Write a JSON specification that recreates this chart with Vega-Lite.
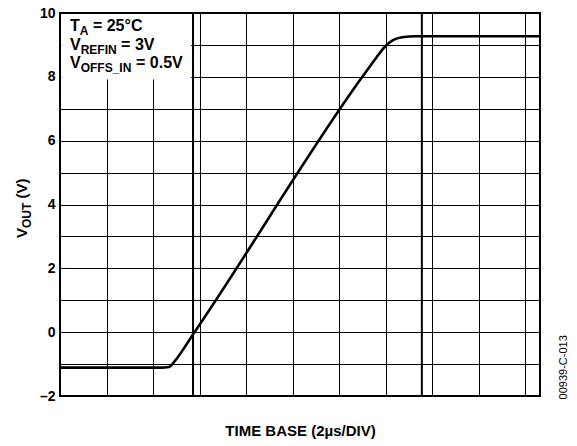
{
  "$schema": "https://vega.github.io/schema/vega-lite/v6.json",
  "width": 480,
  "height": 383,
  "autosize": "none",
  "padding": {"left": 60, "top": 13, "right": 37, "bottom": 50},
  "background": "white",
  "config": {
    "font": "Liberation Sans",
    "view": {"stroke": "black", "strokeWidth": 2},
    "axis": {
      "gridColor": "black", "gridOpacity": 1, "gridWidth": 1,
      "domain": false, "ticks": false,
      "labelFont": "Liberation Sans", "labelFontWeight": "bold", "labelFontSize": 14, "labelColor": "black",
      "titleFont": "Liberation Sans", "titleFontWeight": "bold", "titleFontSize": 15, "titleColor": "black"
    }
  },
  "resolve": {"axis": {"y": "independent"}},
  "datasets": {
    "curve": [
      {"x": 0.02, "y": -1.11}, {"x": 2.2, "y": -1.11}, {"x": 2.3, "y": -1.1}, {"x": 2.37, "y": -1.07},
      {"x": 2.45, "y": -0.94}, {"x": 2.892, "y": 0}, {"x": 6.5, "y": 8.0}, {"x": 6.8, "y": 8.6},
      {"x": 6.99, "y": 8.95}, {"x": 7.16, "y": 9.15}, {"x": 7.355, "y": 9.24}, {"x": 7.66, "y": 9.27},
      {"x": 10.3, "y": 9.27}
    ],
    "cursors": [
      {"x": 2.86, "y": -2, "y2": 10},
      {"x": 7.78, "y": -2, "y2": 10}
    ],
    "box": [{"x": 0.03, "x2": 2.82, "y": 7.92, "y2": 9.97}],
    "mainText": [
      {"x": 0.215, "y": 9.435, "t": "T"},
      {"x": 0.708, "y": 9.435, "t": "= 25°C"},
      {"x": 0.215, "y": 8.855, "t": "V"},
      {"x": 1.314, "y": 8.855, "t": "= 3V"},
      {"x": 0.215, "y": 8.276, "t": "V"},
      {"x": 1.635, "y": 8.276, "t": "= 0.5V"}
    ],
    "subText": [
      {"x": 0.426, "y": 9.31, "t": "A"},
      {"x": 0.445, "y": 8.73, "t": "REFIN"},
      {"x": 0.445, "y": 8.15, "t": "OFFS_IN"}
    ],
    "yTitleMain": [
      {"x": -0.71, "y": 2.95, "t": "V"},
      {"x": -0.71, "y": 4.19, "t": "(V)"}
    ],
    "yTitleSub": [
      {"x": -0.624, "y": 3.263, "t": "OUT"}
    ],
    "code": [{"x": 10.83, "y": -1.1, "t": "00939-C-013"}]
  },
  "layer": [
    {
      "data": {"name": "box"},
      "mark": {"type": "rect", "fill": "white", "stroke": null},
      "encoding": {
        "x": {"field": "x", "type": "quantitative",
              "scale": {"domain": [0, 10.32], "nice": false, "zero": false},
              "axis": {"values": [0,1,2,3,4,5,6,7,8,9,10], "grid": true, "labels": false, "title": "TIME BASE (2µs/DIV)", "titlePadding": 27}},
        "x2": {"field": "x2"},
        "y": {"field": "y", "type": "quantitative",
              "scale": {"domain": [-2, 10], "nice": false, "zero": false},
              "axis": {"orient": "left", "values": [-2,-1,0,1,2,3,4,5,6,7,8,9,10], "grid": true, "labels": false, "title": null}},
        "y2": {"field": "y2"}
      }
    },
    {
      "data": {"name": "cursors"},
      "mark": {"type": "rule", "color": "black", "strokeWidth": 2},
      "encoding": {
        "x": {"field": "x", "type": "quantitative"},
        "y": {"field": "y", "type": "quantitative",
              "axis": {"orient": "left", "values": [-2,0,2,4,6,8,10], "grid": false, "title": null, "labelPadding": 5,
                       "labelExpr": "datum.value < 0 ? '–' + abs(datum.value) : datum.label"}},
        "y2": {"field": "y2"}
      }
    },
    {
      "data": {"name": "curve"},
      "mark": {"type": "line", "color": "black", "strokeWidth": 2.6, "interpolate": "monotone"},
      "encoding": {
        "x": {"field": "x", "type": "quantitative"},
        "y": {"field": "y", "type": "quantitative", "axis": null}
      }
    },
    {
      "data": {"name": "mainText"},
      "mark": {"type": "text", "font": "Liberation Sans", "fontWeight": "bold", "fontSize": 16, "align": "left", "baseline": "alphabetic", "color": "black"},
      "encoding": {
        "x": {"field": "x", "type": "quantitative"},
        "y": {"field": "y", "type": "quantitative", "axis": null},
        "text": {"field": "t"}
      }
    },
    {
      "data": {"name": "subText"},
      "mark": {"type": "text", "font": "Liberation Sans", "fontWeight": "bold", "fontSize": 12, "align": "left", "baseline": "alphabetic", "color": "black"},
      "encoding": {
        "x": {"field": "x", "type": "quantitative"},
        "y": {"field": "y", "type": "quantitative", "axis": null},
        "text": {"field": "t"}
      }
    },
    {
      "data": {"name": "yTitleMain"},
      "mark": {"type": "text", "font": "Liberation Sans", "fontWeight": "bold", "fontSize": 15, "align": "left", "baseline": "alphabetic", "angle": 270, "color": "black"},
      "encoding": {
        "x": {"field": "x", "type": "quantitative"},
        "y": {"field": "y", "type": "quantitative", "axis": null},
        "text": {"field": "t"}
      }
    },
    {
      "data": {"name": "yTitleSub"},
      "mark": {"type": "text", "font": "Liberation Sans", "fontWeight": "bold", "fontSize": 12, "align": "left", "baseline": "alphabetic", "angle": 270, "color": "black"},
      "encoding": {
        "x": {"field": "x", "type": "quantitative"},
        "y": {"field": "y", "type": "quantitative", "axis": null},
        "text": {"field": "t"}
      }
    },
    {
      "data": {"name": "code"},
      "mark": {"type": "text", "font": "Liberation Sans", "fontSize": 11, "align": "center", "baseline": "middle", "angle": 270, "color": "black"},
      "encoding": {
        "x": {"field": "x", "type": "quantitative"},
        "y": {"field": "y", "type": "quantitative", "axis": null},
        "text": {"field": "t"}
      }
    }
  ]
}
